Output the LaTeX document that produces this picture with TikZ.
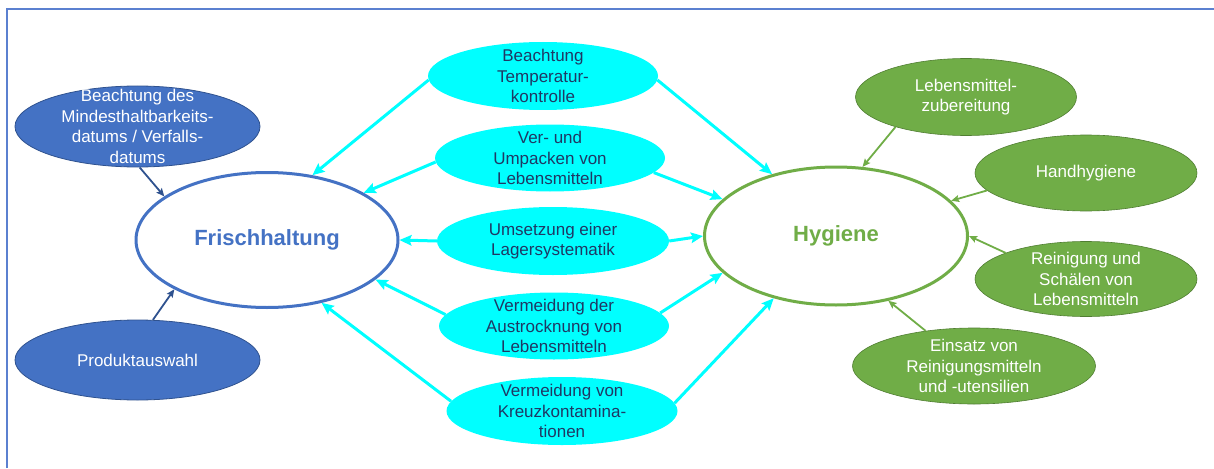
\documentclass[tikz,border=0pt]{standalone}
\usepackage{fontspec}
\setmainfont{Liberation Sans}
\usetikzlibrary{shapes.geometric,arrows.meta}
\definecolor{hblau}{HTML}{4472C4}
\definecolor{hblaudunkel}{HTML}{2F528F}
\definecolor{hgruen}{HTML}{70AD47}
\definecolor{hgruendunkel}{HTML}{507E32}
\definecolor{hcyan}{HTML}{00FFFF}
\definecolor{hnavy}{HTML}{1F3864}
\definecolor{hrahmen}{HTML}{5B80D0}
\begin{document}
\begin{tikzpicture}[x=1pt,y=-1pt,
    blob/.style={ellipse,inner sep=0pt},
    blaublob/.style={blob,fill=hblau,draw=hblaudunkel,line width=0.8pt},
    cyanblob/.style={blob,fill=hcyan},
    gruenblob/.style={blob,fill=hgruen,draw=hgruendunkel,line width=0.6pt},
    txt/.style={align=center,inner sep=0pt,font=\fontsize{17}{20.5}\selectfont},
    weiss/.style={txt,text=white},
    navy/.style={txt,text=hnavy},
    cyanpfeil/.style={-{Stealth[length=12pt,width=10.5pt,inset=2pt]},hcyan,line width=3pt},
    blaupfeil/.style={-{Stealth[length=8pt,width=7pt,inset=1.5pt]},hblaudunkel,line width=1.8pt},
    gruenpfeil/.style={-{Stealth[length=8pt,width=7pt,inset=1.5pt]},hgruen,line width=1.8pt}]
    \useasboundingbox (0,0) rectangle (1214,468);
    \draw[hrahmen,line width=1.6pt] (7,468)--(7,9)--(1214,9); %Rahmen
    % Hauptknoten
    \node[blob,draw=hblau,line width=3pt,fill=white,minimum width=262pt,minimum height=135pt] (frisch) at (267,240) {};
    \node[txt,text=hblau,font=\bfseries\fontsize{22}{26}\selectfont] (frischtxt) at (frisch) {Frischhaltung};
    \node[blob,draw=hgruen,line width=3pt,fill=white,minimum width=263pt,minimum height=138pt] (hyg) at (836,236) {};
    \node[txt,text=hgruen,font=\bfseries\fontsize{22}{26}\selectfont] (hygtxt) at (hyg) {Hygiene};
    % links
    \node[blaublob,minimum width=245pt,minimum height=81pt] (mhd) at (137.5,126.5) {};
    \node[weiss] (mhdtxt) at (mhd) {Beachtung des\\Mindesthaltbarkeits-\\datums / Verfalls-\\datums};
    \node[blaublob,minimum width=245pt,minimum height=80pt] (prod) at (137.5,360) {};
    \node[weiss] (prodtxt) at (prod) {Produktauswahl};
    % Mitte
    \node[cyanblob,minimum width=230pt,minimum height=68pt] (temp) at (543,76) {};
    \node[navy] (temptxt) at (temp) {Beachtung\\Temperatur-\\kontrolle};
    \node[cyanblob,minimum width=230pt,minimum height=67pt] (pack) at (550,158) {};
    \node[navy] (packtxt) at (pack) {Ver- und\\Umpacken von\\Lebensmitteln};
    \node[cyanblob,minimum width=232pt,minimum height=68pt] (lager) at (553,241) {};
    \node[navy] (lagertxt) at (lager) {Umsetzung einer\\Lagersystematik};
    \node[cyanblob,minimum width=230pt,minimum height=67pt] (trock) at (554,326) {};
    \node[navy] (trocktxt) at (trock) {Vermeidung der\\Austrocknung von\\Lebensmitteln};
    \node[cyanblob,minimum width=231pt,minimum height=68pt] (kreuz) at (562,411) {};
    \node[navy] (kreuztxt) at (kreuz) {Vermeidung von\\Kreuzkontamina-\\tionen};
    % rechts
    \node[gruenblob,minimum width=221pt,minimum height=77pt] (zube) at (966,97) {};
    \node[weiss] (zubetxt) at (zube) {Lebensmittel-\\zubereitung};
    \node[gruenblob,minimum width=222pt,minimum height=76pt] (hand) at (1086,173) {};
    \node[weiss] (handtxt) at (hand) {Handhygiene};
    \node[gruenblob,minimum width=222pt,minimum height=75pt] (schael) at (1086,279) {};
    \node[weiss] (schaeltxt) at (schael) {Reinigung und\\Schälen von\\Lebensmitteln};
    \node[gruenblob,minimum width=243pt,minimum height=76pt] (mittel) at (974,366) {};
    \node[weiss] (mitteltxt) at (mittel) {Einsatz von\\Reinigungsmitteln\\und -utensilien};
    % Pfeile
    \draw[blaupfeil] (mhd.273)--(frisch.157);
    \draw[blaupfeil] (prod.69)--(frisch.208);
    \draw[cyanpfeil] (temp.182)--(frisch.55);
    \draw[cyanpfeil] (pack.182)--(frisch.26);
    \draw[cyanpfeil] (lager.180)--(frisch.0);
    \draw[cyanpfeil] (trock.174)--(frisch.340);
    \draw[cyanpfeil] (kreuz.175)--(frisch.311);
    \draw[cyanpfeil] (temp.358)--(hyg.136);
    \draw[cyanpfeil] (pack.352)--(hyg.162);
    \draw[cyanpfeil] (lager.0)--(hyg.180);
    \draw[cyanpfeil] (trock.7)--(hyg.198);
    \draw[cyanpfeil] (kreuz.4)--(hyg.225);
    \draw[gruenpfeil] (zube.203)--(hyg.69);
    \draw[gruenpfeil] (hand.190)--(hyg.17);
    \draw[gruenpfeil] (schael.162)--(hyg.0);
    \draw[gruenpfeil] (mittel.144)--(hyg.309);
\end{tikzpicture}
\end{document}
